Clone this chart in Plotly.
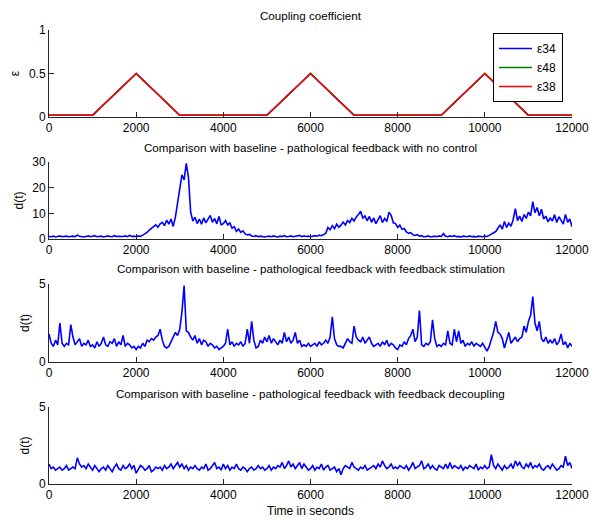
import plotly.graph_objects as go

# ---------------- data ----------------
coup_t = [0, 1000, 2000, 3000, 5000, 6000, 7000, 9000, 10000, 11000, 12000]
eps34 = [0.02, 0.02, 0.5, 0.02, 0.02, 0.5, 0.02, 0.02, 0.5, 0.02, 0.02]
eps48 = [0.02, 0.02, 0.5, 0.02, 0.02, 0.5, 0.02, 0.02, 0.5, 0.02, 0.02]
eps38 = [0.02, 0.02, 0.5, 0.02, 0.02, 0.5, 0.02, 0.02, 0.5, 0.02, 0.02]

time_s = list(range(0, 12001, 50))

d_no_control = [
    1.0, 0.9, 1.1, 0.8, 1.0, 1.2, 0.9, 1.0, 1.1, 0.9, 1.0, 1.1, 0.9, 1.5, 1.1, 1.0, 0.8, 1.0, 1.2, 0.9,
    1.0, 1.3, 0.9, 1.0, 1.1, 0.8, 1.0, 1.2, 1.0, 0.9, 1.3, 1.0, 1.1, 0.9, 1.0, 1.2, 0.9, 1.4, 1.0, 1.1,
    0.9, 1.2, 1.0, 1.5, 2.0, 2.6, 3.5, 4.2, 4.8, 5.5, 4.6, 5.9, 6.5, 5.2, 7.4, 5.8, 7.8, 4.9, 8.5, 14.0,
    20.5, 25.0, 23.0, 29.5, 24.0, 10.5, 7.0, 8.5, 6.0, 7.8, 5.8, 8.2, 6.3, 7.5, 9.2, 6.5, 8.0, 5.9, 8.8, 5.5,
    6.0, 7.2, 5.5, 6.3, 4.2, 4.8, 3.0, 3.9, 2.6, 3.2, 2.0, 1.6, 1.8, 1.2, 1.0, 1.3, 0.9, 1.1, 1.0, 0.8,
    1.0, 1.1, 0.9, 1.2, 1.0, 0.8, 1.1, 1.0, 1.3, 0.9, 1.0, 1.2, 0.9, 1.1, 1.0, 1.4, 0.9, 1.2, 1.0, 1.1,
    0.9, 1.2, 1.3, 1.1, 1.5, 1.3, 1.8, 2.2, 4.5, 3.6, 5.2, 4.0, 5.8, 4.6, 5.4, 6.6, 5.5, 7.2, 6.4, 8.1,
    7.0, 8.6, 9.5, 10.8, 8.2, 9.0, 7.1, 8.8, 6.5, 8.2, 6.0, 7.4, 9.1, 6.4, 8.0, 6.8, 10.4, 9.2, 6.3, 6.0,
    4.5, 5.4, 3.8, 4.1, 2.8, 2.2, 2.5, 1.6, 1.4, 1.7, 1.1, 1.3, 0.8, 1.0, 1.2, 0.8, 1.0, 1.1, 0.9, 1.2,
    1.0, 2.1, 1.1, 0.9, 1.2, 1.0, 1.3, 0.9, 1.0, 0.8, 1.1, 1.0, 0.9, 1.2, 0.9, 1.0, 0.8, 1.1, 1.0, 0.9,
    1.1, 1.0, 1.4, 1.8, 2.2, 2.9, 4.2, 5.5, 3.8, 6.8, 4.5, 6.2, 5.0, 7.5, 11.8, 7.2, 8.9, 6.8, 9.6, 8.0,
    10.5, 9.0, 14.6, 10.2, 12.3, 9.0, 11.6, 7.8, 8.9, 6.7, 8.2, 7.0, 9.5, 6.4, 8.7, 7.5, 5.8, 9.6, 6.5, 7.8,
    4.8,
]

d_stimulation = [
    1.8, 1.2, 1.0, 1.4, 1.1, 2.5, 1.2, 1.0, 1.2, 1.1, 2.4, 1.6, 1.1, 1.3, 1.5, 1.0, 1.2, 1.1, 1.4, 1.0,
    1.1, 0.9, 1.3, 1.0, 1.2, 1.6, 1.1, 1.0, 1.3, 1.2, 1.5, 1.0, 1.3, 1.1, 1.7, 1.0, 1.2, 1.1, 0.9, 1.0,
    0.8, 1.0, 0.9, 1.2, 1.0, 1.4, 1.3, 1.5, 1.4, 1.6, 1.7, 2.1, 1.4, 1.0, 0.9, 1.0, 1.3, 1.6, 1.9, 1.7,
    2.1, 3.2, 4.9, 2.0, 1.9, 1.6, 1.4, 1.7, 1.2, 1.5, 1.1, 1.4, 1.3, 1.0, 1.2, 1.1, 0.9, 1.0, 0.8, 0.9,
    1.0, 1.2, 2.1, 1.1, 1.3, 1.0, 1.2, 1.1, 1.3, 1.0, 1.2, 2.1, 1.2, 2.6, 1.4, 0.9, 1.0, 1.4, 1.2, 1.6,
    1.3, 1.7, 1.2, 1.5, 1.3, 1.1, 1.4, 1.2, 1.9, 1.3, 1.6, 1.2, 1.4, 1.9, 1.2, 1.4, 1.0, 1.1, 1.0, 1.2,
    1.0, 1.1, 1.2, 1.0, 1.3, 1.1, 1.2, 1.4, 1.2, 1.6, 2.9, 1.5, 1.1, 1.0, 1.0, 0.9, 1.2, 1.5, 1.3, 1.2,
    2.3, 1.6, 1.4, 1.3, 1.6, 1.2, 1.4, 1.6, 1.2, 1.0, 1.1, 1.2, 1.0, 1.3, 1.1, 1.4, 1.0, 1.2, 1.1, 0.9,
    0.8, 1.1, 1.0, 1.3, 1.1, 1.5, 1.7, 2.1, 1.3, 1.6, 3.3, 1.1, 1.0, 1.2, 1.1, 1.3, 2.7, 1.5, 1.0, 1.1,
    1.0, 1.2, 1.1, 2.0, 1.2, 1.1, 2.1, 1.3, 2.0, 1.2, 1.4, 1.0, 1.2, 1.1, 1.3, 1.0, 1.2, 1.1, 1.0, 1.2,
    0.9, 0.7, 1.0, 1.4, 1.9, 2.6, 1.9, 1.8, 1.5, 0.9, 1.5, 1.9, 1.2, 1.4, 1.6, 1.3, 1.5, 1.6, 2.3, 1.9,
    2.6, 3.0, 4.2, 2.5, 2.0, 2.6, 1.5, 1.3, 1.6, 1.2, 1.4, 1.2, 1.5, 1.1, 1.3, 1.8, 1.1, 1.3, 0.9, 1.2,
    1.0,
]

d_decoupling = [
    1.3, 1.0, 1.1, 0.9, 1.0, 1.1, 0.9, 1.0, 1.2, 0.9, 1.0, 1.1, 1.0, 1.7, 1.3, 1.1, 1.2, 1.0, 1.3, 1.1,
    0.9, 1.2, 1.0, 0.8, 1.0, 1.1, 0.9, 1.2, 1.0, 0.8, 1.1, 1.3, 1.0, 0.9, 1.2, 1.0, 1.1, 1.3, 1.0, 1.2,
    0.7, 1.0, 1.2, 1.1, 0.9, 1.0, 1.2, 0.8, 0.9, 1.1, 1.0, 1.1, 0.9, 1.2, 1.0, 1.1, 1.3, 1.0, 1.2, 1.4,
    1.1, 1.3, 1.0, 1.2, 0.9, 1.1, 1.0, 1.2, 1.0, 0.9, 1.1, 1.0, 1.3, 0.9, 1.0, 1.2, 1.4, 1.0, 1.1, 0.9,
    1.3, 1.0, 1.2, 0.9, 1.1, 1.0, 1.3, 1.0, 0.9, 1.1, 1.0, 0.8, 1.0, 1.1, 0.9, 1.0, 1.2, 1.0, 1.1, 0.9,
    1.0, 1.2, 0.9, 1.1, 1.0, 1.2, 1.1, 1.4, 1.0, 1.2, 1.5, 1.1, 1.3, 1.0, 1.2, 1.4, 1.0, 1.3, 1.1, 0.9,
    1.0, 1.2, 0.9, 1.1, 1.0, 1.3, 0.9, 1.1, 1.2, 0.9, 1.0, 1.1, 0.8, 1.0, 0.6, 1.0, 1.2, 1.1, 1.0, 1.4,
    1.1, 1.0, 0.9, 1.1, 1.0, 1.2, 0.9, 1.0, 1.1, 1.2, 1.0, 1.3, 1.1, 1.5, 1.2, 1.0, 1.1, 1.3, 1.0, 1.1,
    1.0, 1.2, 1.1, 1.0, 1.2, 0.9, 1.1, 1.4, 1.0, 1.1, 1.2, 1.5, 1.0, 1.1, 1.3, 1.0, 1.2, 1.0, 0.9, 1.2,
    1.1, 1.0, 1.3, 1.0, 1.4, 1.0, 1.2, 1.1, 1.0, 1.2, 0.9, 1.1, 1.0, 1.2, 1.1, 1.0, 1.3, 0.9, 1.1, 1.0,
    1.2, 1.0, 1.1, 1.9, 1.2, 1.0, 1.3, 1.1, 0.9, 1.2, 1.0, 1.1, 1.3, 1.0, 1.5, 1.2, 1.4, 1.1, 1.0, 1.3,
    1.1, 1.4, 1.0, 1.2, 1.1, 1.3, 1.0, 0.9, 1.1, 1.2, 1.0, 1.3, 1.1, 0.9, 1.0, 1.2, 1.1, 1.8, 1.2, 1.4,
    1.0,
]

x_ticks = [0, 2000, 4000, 6000, 8000, 10000, 12000]
titles = [
    "Coupling coefficient",
    "Comparison with baseline - pathological feedback with no control",
    "Comparison with baseline - pathological feedback with feedback stimulation",
    "Comparison with baseline - pathological feedback with feedback decoupling",
]
x_label = "Time in seconds"

# ---------------- figure ----------------
W, H = 594, 520
FONT = "Liberation Sans, Arial, sans-serif"
AX = "#262626"

def py(p):
    return 1 - p / H

x_dom = [49 / W, 572 / W]
y_doms = [(117, 30), (239, 162), (362, 284), (484, 407)]

fig = go.Figure()

for name, vals, col in [("ε34", eps34, "#0000ff"), ("ε48", eps48, "#008000"), ("ε38", eps38, "#ff0000")]:
    fig.add_trace(go.Scatter(x=coup_t, y=vals, mode="lines", name=name,
                             line=dict(color=col, width=1.6), xaxis="x", yaxis="y"))

for i, vals in enumerate([d_no_control, d_stimulation, d_decoupling], start=2):
    fig.add_trace(go.Scatter(x=time_s, y=vals, mode="lines", showlegend=False,
                             line=dict(color="#0000ff", width=1.6),
                             xaxis=f"x{i}", yaxis=f"y{i}"))

y_specs = [
    dict(range=[0, 1], tickvals=[0, 0.5, 1], ticktext=["0", "0.5", "1"], title="ε"),
    dict(range=[0, 30], tickvals=[0, 10, 20, 30], ticktext=None, title="d(t)"),
    dict(range=[0, 5], tickvals=[0, 5], ticktext=None, title="d(t)"),
    dict(range=[0, 5], tickvals=[0, 5], ticktext=None, title="d(t)"),
]

layout = dict(
    template="none",
    width=W, height=H, margin=dict(l=0, r=0, t=0, b=0, autoexpand=False),
    paper_bgcolor="white", plot_bgcolor="white",
    font=dict(family=FONT, size=11, color="#000000"),
    legend=dict(x=493 / W, y=py(33), xanchor="left", yanchor="top",
                bgcolor="white", bordercolor="#000000", borderwidth=1,
                font=dict(size=12), itemwidth=33, tracegroupgap=0),
)

for k in range(4):
    sfx = "" if k == 0 else str(k + 1)
    b, t = y_doms[k]
    layout[f"xaxis{sfx}"] = dict(
        domain=x_dom, range=[0, 12000], tickvals=x_ticks,
        ticktext=[str(v) for v in x_ticks], automargin=False,
        showline=True, linecolor=AX, linewidth=1, ticks="inside", ticklen=5,
        tickcolor=AX, showgrid=False, zeroline=False, anchor=f"y{sfx}",
        tickfont=dict(size=12),
    )
    ys = y_specs[k]
    yax = dict(
        domain=[py(b), py(t)], range=ys["range"], tickvals=ys["tickvals"], automargin=False,
        showline=True, linecolor=AX, linewidth=1, ticks="inside", ticklen=5,
        tickcolor=AX, showgrid=False, zeroline=False, anchor=f"x{sfx}",
        tickfont=dict(size=12),
        title=dict(text=ys["title"], standoff=6, font=dict(size=12)),
    )
    if ys["ticktext"]:
        yax["ticktext"] = ys["ticktext"]
    layout[f"yaxis{sfx}"] = yax

fig.update_layout(**layout)

title_y = [15, 147, 268, 393]
for txt, yy in zip(titles, title_y):
    fig.add_annotation(text=txt, x=(x_dom[0] + x_dom[1]) / 2, y=py(yy), xref="paper", yref="paper",
                       showarrow=False, xanchor="center", yanchor="middle", font=dict(size=11.6))
fig.add_annotation(text=x_label, x=(x_dom[0] + x_dom[1]) / 2, y=py(511), xref="paper", yref="paper",
                   showarrow=False, xanchor="center", yanchor="middle", font=dict(size=12))

fig.write_html("out.html")
